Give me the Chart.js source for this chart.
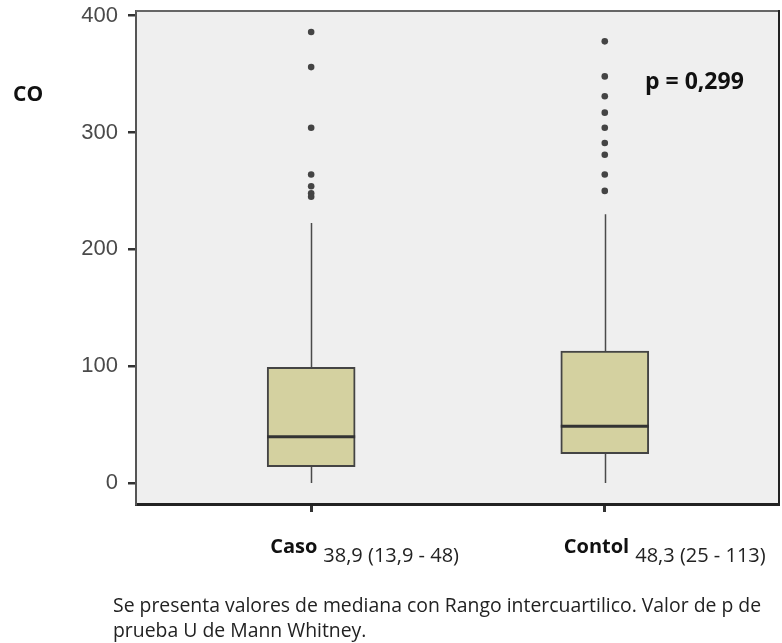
<!DOCTYPE html>
<html>
<head>
<meta charset="utf-8">
<script src="https://cdn.jsdelivr.net/npm/chart.js@4.4.1/dist/chart.umd.min.js"></script>
<style>
    body { margin: 0; background: #fff; }
    .wrap { position: relative; width: 782px; height: 643px; }
    .txt { position: absolute; font-family: "Open Sans", sans-serif; color: #111; white-space: nowrap; }
    #ylab { left: 13px; top: 79px; font-size: 21px; font-weight: bold; line-height: 28px; }
    #pval { left: 645px; top: 64px; font-size: 23px; font-weight: bold; line-height: 32px; }
    #nota { left: 113px; top: 592px; font-size: 19.4px; line-height: 25px; color: #222; }
</style>
</head>
<body>
<div class="wrap">
    <canvas id="grafico" width="782" height="643"></canvas>
    <div class="txt" id="ylab">CO</div>
    <div class="txt" id="pval">p = 0,299</div>
    <div class="txt" id="nota">Se presenta valores de mediana con Rango intercuartilico. Valor de p de<br>prueba U de Mann Whitney.</div>
</div>
<script>
// dados
const grupos = ['Caso', 'Contol'];
const resumos = ['38,9 (13,9 - 48)', '48,3 (25 - 113)'];
const posicoes = [1, 2];
const minimos = [0, 0];
const q1 = [13.9, 25];
const medianas = [39.5, 48.5];
const q3 = [99, 113];
const maximos = [222.6, 230];
const outliersCaso = [386, 356, 304, 264, 254, 248, 245];
const outliersContol = [378, 348, 331, 317, 304, 291, 281, 264, 250];
const yTicks = [0, 100, 200, 300, 400];

// Fundo cinza da area do grafico e bordas
const fundoPlugin = {
    id: 'fundo',
    beforeDraw(chart) {
        const a = chart.chartArea, ctx = chart.ctx;
        ctx.save();
        ctx.fillStyle = '#efefef';
        ctx.fillRect(a.left, a.top, a.right - a.left + 1, a.bottom - a.top);
        ctx.restore();
    },
    afterDraw(chart) {
        const a = chart.chartArea, ctx = chart.ctx;
        ctx.save();
        ctx.lineWidth = 2;
        ctx.strokeStyle = '#666';
        ctx.beginPath();
        ctx.moveTo(a.left, a.top);
        ctx.lineTo(a.right + 1, a.top);
        ctx.stroke();
        ctx.strokeStyle = '#222';
        ctx.beginPath();
        ctx.moveTo(a.right + 1, a.top - 1);
        ctx.lineTo(a.right + 1, a.bottom);
        ctx.stroke();
        ctx.restore();
    }
};

// Bigodes, mediana e rotulos do eixo x
const boxPlugin = {
    id: 'caixas',
    beforeDatasetsDraw(chart) {
        const x = chart.scales.x, y = chart.scales.y, ctx = chart.ctx;
        ctx.save();
        ctx.strokeStyle = '#4a4a4a';
        ctx.lineWidth = 1.5;
        posicoes.forEach((p, i) => {
            const px = Math.round(x.getPixelForValue(p)) + 0.5;
            ctx.beginPath();
            ctx.moveTo(px, y.getPixelForValue(q3[i]));
            ctx.lineTo(px, y.getPixelForValue(maximos[i]));
            ctx.moveTo(px, y.getPixelForValue(q1[i]));
            ctx.lineTo(px, y.getPixelForValue(minimos[i]));
            ctx.stroke();
        });
        ctx.restore();
    },
    afterDatasetsDraw(chart) {
        const x = chart.scales.x, y = chart.scales.y, ctx = chart.ctx;
        const meta = chart.getDatasetMeta(0);
        ctx.save();
        ctx.strokeStyle = '#333';
        ctx.lineWidth = 3;
        posicoes.forEach((p, i) => {
            const bar = meta.data[i];
            const meio = bar.width / 2;
            const px = x.getPixelForValue(p);
            const py = y.getPixelForValue(medianas[i]);
            ctx.beginPath();
            ctx.moveTo(px - meio, py);
            ctx.lineTo(px + meio, py);
            ctx.stroke();
        });
        // rotulos das categorias
        ctx.textBaseline = 'middle';
        posicoes.forEach((p, i) => {
            const inicio = x.getPixelForValue(p) - 41;
            ctx.fillStyle = '#111';
            ctx.font = 'bold 20px "Open Sans"';
            ctx.fillText(grupos[i], inicio, 547);
            const w = ctx.measureText(grupos[i]).width;
            ctx.font = '20px "Open Sans"';
            ctx.fillStyle = '#222';
            ctx.fillText(resumos[i], inicio + w + 6, 556);
        });
        ctx.restore();
    }
};

const ctx = document.getElementById('grafico').getContext('2d');
new Chart(ctx, {
    type: 'bar',
    data: {
        datasets: [{
            label: 'IQR',
            data: posicoes.map((p, i) => ({ x: p, y: [q1[i], q3[i]] })),
            backgroundColor: '#d4d1a0',
            borderColor: '#444',
            borderWidth: 2,
            borderSkipped: false,
            barThickness: 88
        }, {
            type: 'scatter',
            label: 'Atipicos',
            data: outliersCaso.map(v => ({ x: posicoes[0], y: v }))
                .concat(outliersContol.map(v => ({ x: posicoes[1], y: v }))),
            backgroundColor: '#444',
            borderWidth: 0,
            pointRadius: 3.3
        }]
    },
    options: {
        responsive: false,
        animation: false,
        layout: { padding: { top: 11, right: 0, left: 0, bottom: 0 } },
        plugins: {
            legend: { display: false },
            tooltip: { enabled: false }
        },
        scales: {
            x: {
                type: 'linear',
                offset: false,
                min: 0.4034,
                max: 2.59,
                afterBuildTicks: s => { s.ticks = posicoes.map(v => ({ value: v })); },
                afterFit: s => { s.height = 139; s.paddingLeft = 0; s.paddingRight = 0; },
                ticks: { display: false },
                grid: { offset: false, drawOnChartArea: false, drawTicks: true, tickLength: 8, color: '#333', lineWidth: 3 },
                border: { display: true, color: '#222', width: 3 }
            },
            y: {
                min: -18,
                max: 404,
                afterBuildTicks: s => { s.ticks = yTicks.map(v => ({ value: v })); },
                afterFit: s => { s.width = 136; s.paddingTop = 0; s.paddingBottom = 0; },
                ticks: {
                    font: { family: 'Liberation Sans', size: 22, lineHeight: 1 },
                    color: '#4a4a4a',
                    padding: 10
                },
                grid: { drawOnChartArea: false, drawTicks: true, tickLength: 8, color: '#333', lineWidth: 2.5 },
                border: { display: true, color: '#555', width: 2 }
            }
        }
    },
    plugins: [fundoPlugin, boxPlugin]
});
</script>
</body>
</html>
